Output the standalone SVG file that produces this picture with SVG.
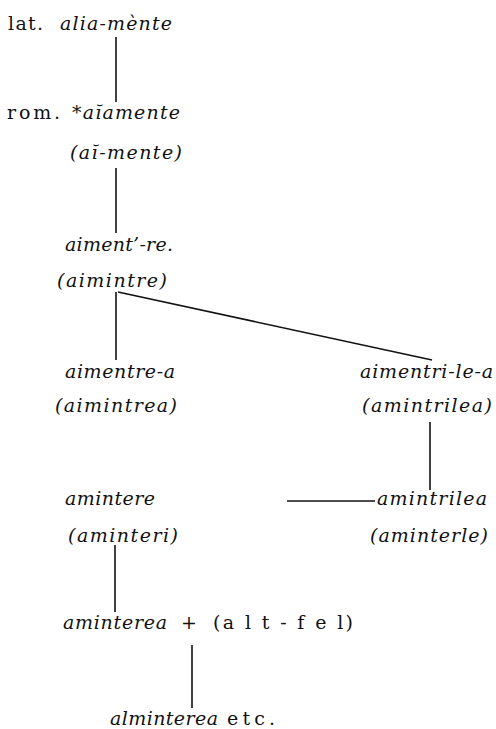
<svg xmlns="http://www.w3.org/2000/svg" width="496" height="729" viewBox="0 0 496 729">
<style>
text{font-family:"DejaVu Serif","Liberation Serif",serif;font-size:19px;fill:#111}
.i{font-style:italic}
.c line{stroke:#111;stroke-width:1.6;fill:none}
</style>
<rect width="496" height="729" fill="#fff"/>
<g class="c" id="connectors">
<line x1="116" y1="37" x2="116" y2="102"/>
<line x1="116" y1="168" x2="116" y2="233"/>
<line x1="116" y1="292" x2="116" y2="360"/>
<line x1="118" y1="292" x2="432" y2="360"/>
<line x1="430" y1="422" x2="430" y2="490"/>
<line x1="287" y1="501" x2="375" y2="501"/>
<line x1="115" y1="545" x2="115" y2="612"/>
<line x1="192" y1="645" x2="192" y2="708"/>
</g>
<g id="n1"><text x="8" y="30" textLength="35" lengthAdjust="spacing">lat.</text><text class="i" x="60" y="30" textLength="112" lengthAdjust="spacing">alia-mènte</text></g>
<g id="n2"><text x="7" y="119" textLength="53" lengthAdjust="spacing">rom.</text><text class="i" x="72" y="119" textLength="108" lengthAdjust="spacing">*aĭamente</text></g>
<g id="n3"><text class="i" x="70" y="159" textLength="112" lengthAdjust="spacing">(aĭ-mente)</text></g>
<g id="n4"><text class="i" x="65" y="251" textLength="108" lengthAdjust="spacing">aiment’-re.</text></g>
<g id="n5"><text class="i" x="57" y="287" textLength="110" lengthAdjust="spacing">(aimintre)</text></g>
<g id="n6"><text class="i" x="65" y="378" textLength="110" lengthAdjust="spacing">aimentre-a</text><text class="i" x="55" y="412" textLength="122" lengthAdjust="spacing">(aimintrea)</text></g>
<g id="n7"><text class="i" x="360" y="378" textLength="133" lengthAdjust="spacing">aimentri-le-a</text><text class="i" x="362" y="412" textLength="130" lengthAdjust="spacing">(amintrilea)</text></g>
<g id="n8"><text class="i" x="65" y="505" textLength="90" lengthAdjust="spacing">amintere</text><text class="i" x="68" y="542" textLength="110" lengthAdjust="spacing">(aminteri)</text></g>
<g id="n9"><text class="i" x="377" y="505" textLength="110" lengthAdjust="spacing">amintrilea</text><text class="i" x="370" y="542" textLength="118" lengthAdjust="spacing">(aminterle)</text></g>
<g id="n10"><text class="i" x="63" y="629" textLength="104" lengthAdjust="spacing">aminterea</text><text x="181" y="629">+</text><text x="213" y="629" textLength="140" lengthAdjust="spacing">(a l t - f e l)</text></g>
<g id="n11"><text class="i" x="110" y="725" textLength="108" lengthAdjust="spacing">alminterea</text><text x="227" y="725" textLength="48" lengthAdjust="spacing">etc.</text></g>
</svg>
